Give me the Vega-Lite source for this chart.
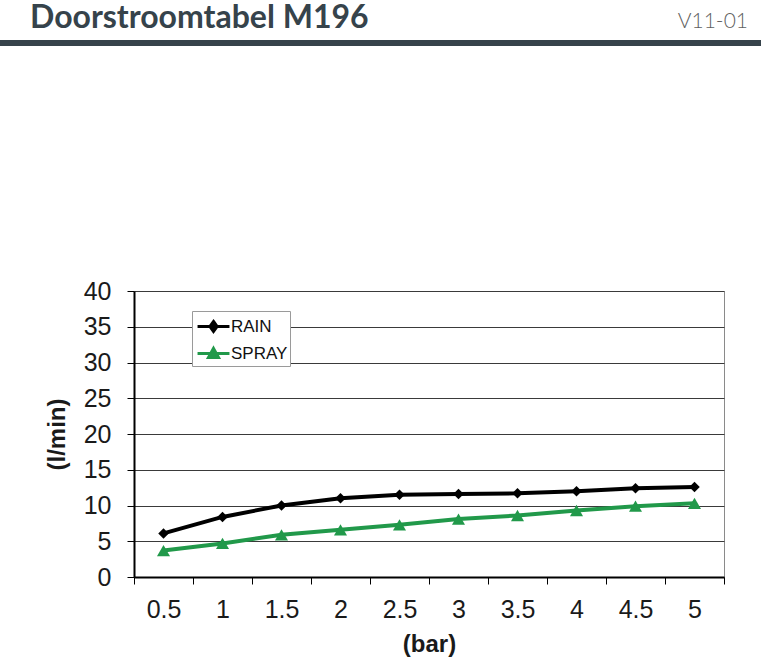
{
  "$schema": "https://vega.github.io/schema/vega-lite/v6.json",
  "padding": {"top": 2, "left": 0, "right": 0, "bottom": 0},
  "background": "white",
  "spacing": 230,
  "datasets": {
    "flow": [
      {"druk": "0.5", "serie": "RAIN", "debiet": 6.1},
      {"druk": "1", "serie": "RAIN", "debiet": 8.4},
      {"druk": "1.5", "serie": "RAIN", "debiet": 10.0},
      {"druk": "2", "serie": "RAIN", "debiet": 11.0},
      {"druk": "2.5", "serie": "RAIN", "debiet": 11.5},
      {"druk": "3", "serie": "RAIN", "debiet": 11.6},
      {"druk": "3.5", "serie": "RAIN", "debiet": 11.7},
      {"druk": "4", "serie": "RAIN", "debiet": 12.0},
      {"druk": "4.5", "serie": "RAIN", "debiet": 12.4},
      {"druk": "5", "serie": "RAIN", "debiet": 12.6},
      {"druk": "0.5", "serie": "SPRAY", "debiet": 3.7},
      {"druk": "1", "serie": "SPRAY", "debiet": 4.7},
      {"druk": "1.5", "serie": "SPRAY", "debiet": 5.9},
      {"druk": "2", "serie": "SPRAY", "debiet": 6.6},
      {"druk": "2.5", "serie": "SPRAY", "debiet": 7.3},
      {"druk": "3", "serie": "SPRAY", "debiet": 8.1},
      {"druk": "3.5", "serie": "SPRAY", "debiet": 8.6},
      {"druk": "4", "serie": "SPRAY", "debiet": 9.3},
      {"druk": "4.5", "serie": "SPRAY", "debiet": 9.9},
      {"druk": "5", "serie": "SPRAY", "debiet": 10.3}
    ],
    "leeg": [{}]
  },
  "config": {
    "axis": {"labelFont": "Liberation Sans", "titleFont": "Liberation Sans"},
    "title": {"font": "Lato"}
  },
  "vconcat": [
    {
      "spacing": 0,
      "hconcat": [
        {
          "width": 380,
          "height": 6,
          "data": {"name": "leeg"},
          "mark": {"type": "text"},
          "encoding": {"text": {"value": ""}},
          "view": {"fill": "#36434b", "stroke": null},
          "title": {"text": "Doorstroomtabel M196", "anchor": "start", "dx": 30, "fontSize": 32, "font": "Lato", "fontWeight": "bold", "color": "#36434b", "offset": 2}
        },
        {
          "width": 381,
          "height": 6,
          "data": {"name": "leeg"},
          "mark": {"type": "text"},
          "encoding": {"text": {"value": ""}},
          "view": {"fill": "#36434b", "stroke": null},
          "title": {"text": "V11-01", "anchor": "end", "dx": -13, "fontSize": 21, "font": "Lato", "fontWeight": 300, "color": "#5f5f5f", "offset": 5}
        }
      ]
    },
    {
      "spacing": 0,
      "hconcat": [
        {
          "width": 44,
          "height": 286,
          "data": {"name": "leeg"},
          "mark": {"type": "text"},
          "encoding": {"text": {"value": ""}},
          "view": {"stroke": null}
        },
        {
          "width": 590,
          "height": 286,
          "data": {"name": "flow"},
          "view": {"stroke": "#8a8a8a", "strokeWidth": 1},
          "encoding": {
            "x": {
              "field": "druk",
              "type": "ordinal",
              "sort": ["0.5", "1", "1.5", "2", "2.5", "3", "3.5", "4", "4.5", "5"],
              "scale": {"type": "band", "paddingInner": 0, "paddingOuter": 0},
              "bandPosition": 0.5,
              "axis": {
                "title": "(bar)",
                "tickBand": "extent",
                "labelAngle": 0,
                "labelFontSize": 25,
                "labelColor": "#1a1a1a",
                "labelPadding": 13,
                "tickSize": 7,
                "tickColor": "#000000",
                "domainColor": "#000000",
                "domainWidth": 2,
                "grid": false,
                "titlePadding": 10,
                "titleFontSize": 24,
                "titleFontWeight": "bold",
                "titleColor": "#1a1a1a"
              }
            },
            "y": {
              "field": "debiet",
              "type": "quantitative",
              "scale": {"domain": [0, 40], "nice": false},
              "axis": {
                "values": [0, 5, 10, 15, 20, 25, 30, 35, 40],
                "title": "(l/min)",
                "titleFontSize": 24,
                "titleFontWeight": "bold",
                "titleColor": "#1a1a1a",
                "titlePadding": 14,
                "labelFontSize": 25,
                "labelColor": "#1a1a1a",
                "labelPadding": 16,
                "tickSize": 7,
                "tickColor": "#000000",
                "domainColor": "#000000",
                "domainWidth": 2,
                "grid": true,
                "gridColor": "#3a3a3a",
                "gridWidth": 1
              }
            }
          },
          "layer": [
            {
              "mark": {"type": "line", "strokeWidth": 4},
              "encoding": {
                "color": {
                  "field": "serie",
                  "type": "nominal",
                  "scale": {"domain": ["RAIN", "SPRAY"], "range": ["#000000", "#21994a"]},
                  "legend": {
                    "orient": "none",
                    "legendX": 192,
                    "legendY": 271,
                    "title": null,
                    "direction": "vertical",
                    "symbolSize": 576,
                    "symbolOffset": 6,
                    "symbolStrokeWidth": 3,
                    "symbolType": {"expr": "datum.value === 'RAIN' ? 'M-1.33,0H1.33M0,-0.42L0.3,0L0,0.42L-0.3,0Z' : 'M-1.33,0H1.33M0,-0.42L0.42,0.34L-0.42,0.34Z'"},
                    "symbolFillColor": {"expr": "datum.value === 'RAIN' ? '#000000' : '#21994a'"},
                    "symbolOpacity": 1,
                    "labelFont": "Liberation Sans",
                    "labelFontSize": 17,
                    "labelColor": "#111111",
                    "labelOffset": 4,
                    "padding": 2,
                    "rowPadding": 2,
                    "strokeColor": "#9a9a9a",
                    "fillColor": "#ffffff"
                  }
                }
              }
            },
            {
              "mark": {"type": "point", "filled": true, "opacity": 1, "strokeWidth": 0},
              "encoding": {
                "color": {"field": "serie", "type": "nominal", "legend": null},
                "shape": {"condition": {"test": "datum.serie === 'RAIN'", "value": "diamond"}, "value": "triangle-up"},
                "size": {"condition": {"test": "datum.serie === 'RAIN'", "value": 110}, "value": 170}
              }
            }
          ]
        }
      ]
    }
  ]
}
